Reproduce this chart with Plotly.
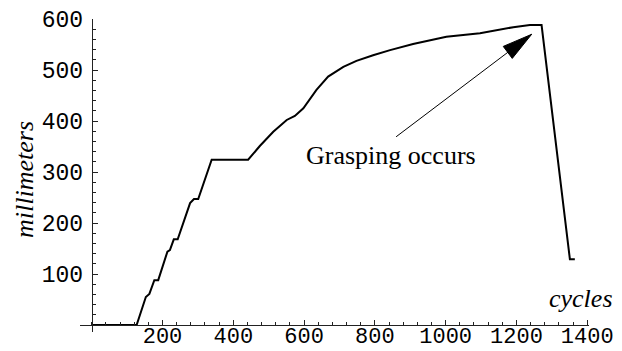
import plotly.graph_objects as go

# Data
cycles = [0, 127, 153, 163, 177, 188, 214, 221, 232, 243, 278, 289, 301, 339, 442,
          475, 513, 551, 574, 598, 635, 668, 711, 748, 795, 843, 908, 1002, 1097,
          1191, 1238, 1271, 1351, 1365]
millimeters = [0, 0, 55, 61, 88, 88, 144, 147, 168, 168, 239, 247, 247, 324, 324,
               351, 379, 402, 410, 425, 461, 487, 506, 518, 529, 539, 551, 565, 572,
               584, 588, 588, 129, 129]

x_ticks = [200, 400, 600, 800, 1000, 1200, 1400]
y_ticks = [100, 200, 300, 400, 500, 600]

annot_text = "Grasping occurs"
annot_pos = (845, 333)
arrow_tail = (860, 369)
arrow_tip = (1243, 570)

X_RANGE = [-33, 1405]
Y_RANGE = [-13.7, 600]

fig = go.Figure()
fig.add_trace(go.Scatter(x=cycles, y=millimeters, mode="lines",
                         line=dict(color="black", width=2), hoverinfo="skip"))

tickfont = dict(family="Liberation Mono", size=23, color="black")
xtickfont = dict(family="Liberation Mono", size=22, color="black")
axcol = "#222222"

fig.update_layout(
    width=622, height=351,
    margin=dict(l=80, r=33, t=19, b=19),
    plot_bgcolor="white", paper_bgcolor="white",
    showlegend=False,
    xaxis=dict(range=X_RANGE, showgrid=False, zeroline=False, showline=True,
               linecolor=axcol, linewidth=1, anchor="free",
               position=(0 - Y_RANGE[0]) / (Y_RANGE[1] - Y_RANGE[0]),
               ticks="inside", ticklen=5, tickcolor=axcol,
               tickvals=x_ticks, ticktext=[str(v) for v in x_ticks],
               tickfont=xtickfont, automargin=False, ticklabelstandoff=-9,
               minor=dict(ticks="inside", ticklen=3, dtick=40, tick0=0,
                          tickcolor=axcol, showgrid=False)),
    yaxis=dict(range=Y_RANGE, showgrid=False, zeroline=False, showline=True,
               linecolor=axcol, linewidth=1, anchor="free",
               position=(0 - X_RANGE[0]) / (X_RANGE[1] - X_RANGE[0]),
               ticks="inside", ticklen=5, tickcolor=axcol,
               tickvals=y_ticks, ticktext=[str(v) for v in y_ticks],
               tickfont=tickfont, automargin=False, ticklabelstandoff=4,
               minor=dict(ticks="inside", ticklen=3, dtick=20, tick0=0,
                          tickcolor=axcol, showgrid=False)),
)

serif = "Liberation Serif"
fig.add_annotation(x=annot_pos[0], y=annot_pos[1], xref="x", yref="y",
                   text=annot_text, showarrow=False,
                   xanchor="center", yanchor="middle",
                   font=dict(family=serif, size=26, color="black"))
fig.add_annotation(x=1.051, y=0.106, xref="paper", yref="paper",
                   text="<i>cycles</i>", showarrow=False,
                   xanchor="right", yanchor="middle",
                   font=dict(family=serif, size=26, color="black"))
fig.add_annotation(x=-0.108, y=0.486, xref="paper", yref="paper",
                   text="<i>millimeters</i>", showarrow=False, textangle=-90,
                   xanchor="center", yanchor="middle",
                   font=dict(family=serif, size=26, color="black"))

# arrow shaft
fig.add_shape(type="line", xref="x", yref="y",
              x0=arrow_tail[0], y0=arrow_tail[1], x1=arrow_tip[0], y1=arrow_tip[1],
              line=dict(color="black", width=1))
# arrow head (pixel offsets relative to the tip)
fig.add_shape(type="path", xref="x", yref="y",
              xsizemode="pixel", ysizemode="pixel",
              xanchor=arrow_tip[0], yanchor=arrow_tip[1],
              path="M 0 0 L -19.4 -24.1 L -28.4 -12.1 Z",
              fillcolor="black", line=dict(color="black", width=1))

fig.write_html("out.html")
